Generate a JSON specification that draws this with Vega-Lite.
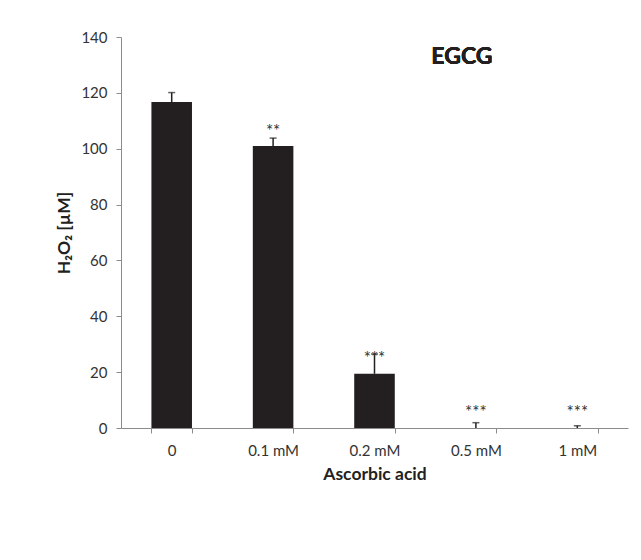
{
  "$schema": "https://vega.github.io/schema/vega-lite/v6.json",
  "width": 507,
  "height": 391,
  "autosize": {"type": "none"},
  "padding": {"left": 121, "top": 37, "right": 13, "bottom": 132},
  "background": "white",
  "config": {
    "view": {"stroke": null},
    "font": "Lato",
    "axis": {
      "grid": false,
      "domainColor": "#8c8c8c",
      "tickColor": "#8c8c8c",
      "labelColor": "#333333",
      "labelFont": "Lato",
      "labelFontSize": 15,
      "titleFont": "Lato",
      "titleFontSize": 17.5,
      "titleFontWeight": "bold",
      "titleColor": "#231f20",
      "tickSize": 5
    }
  },
  "data": {
    "values": [
      {"cat": "0", "value": 116.7, "upper": 120.1, "stars": "", "star_y": 0},
      {"cat": "0.1 mM", "value": 101.0, "upper": 103.8, "stars": "**", "star_y": 104.3},
      {"cat": "0.2 mM", "value": 19.4, "upper": 26.5, "stars": "***", "star_y": 22.8},
      {"cat": "0.5 mM", "value": 0, "upper": 1.9, "stars": "***", "star_y": 3.7},
      {"cat": "1 mM", "value": 0, "upper": 0.8, "stars": "***", "star_y": 3.7}
    ]
  },
  "encoding": {
    "x": {
      "field": "cat",
      "type": "nominal",
      "sort": ["0", "0.1 mM", "0.2 mM", "0.5 mM", "1 mM"],
      "scale": {"paddingInner": 0.6, "paddingOuter": 0.3},
      "axis": {
        "title": "Ascorbic acid",
        "labelAngle": 0,
        "tickBand": "extent",
        "labelPadding": 10,
        "titlePadding": 7
      }
    }
  },
  "layer": [
    {
      "mark": {"type": "bar", "color": "#231f20"},
      "encoding": {
        "y": {
          "field": "value",
          "type": "quantitative",
          "scale": {"domain": [0, 140]},
          "axis": {
            "title": "H₂O₂ [µM]",
            "values": [0, 20, 40, 60, 80, 100, 120, 140],
            "labelPadding": 9,
            "titlePadding": 7
          }
        }
      }
    },
    {
      "mark": {"type": "rule", "color": "#231f20", "strokeWidth": 1.5},
      "encoding": {
        "y": {"field": "value", "type": "quantitative"},
        "y2": {"field": "upper"}
      }
    },
    {
      "mark": {"type": "tick", "color": "#231f20", "orient": "horizontal", "size": 7, "thickness": 1.5},
      "encoding": {
        "y": {"field": "upper", "type": "quantitative"}
      }
    },
    {
      "mark": {"type": "text", "color": "#333333", "fontSize": 17, "baseline": "alphabetic", "font": "Lato"},
      "encoding": {
        "y": {"field": "star_y", "type": "quantitative"},
        "text": {"field": "stars"}
      }
    },
    {
      "mark": {"type": "text", "fontSize": 23, "fontWeight": "bold", "color": "#231f20", "baseline": "middle", "dx": -14, "font": "Lato"},
      "encoding": {
        "x": {"datum": "0.5 mM"},
        "y": {"datum": 132.8},
        "text": {"value": "EGCG"}
      }
    }
  ]
}
